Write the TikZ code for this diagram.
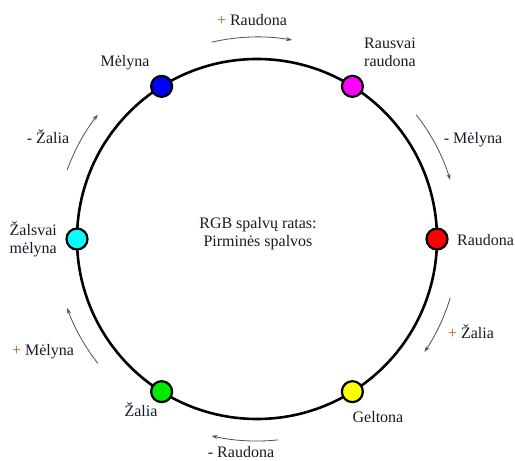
\documentclass[tikz,border=0pt]{standalone}
\usepackage{fontspec}
\setmainfont{Liberation Serif}
\newfontfamily\lbfont{Liberation Serif}
\usetikzlibrary{arrows.meta}
\definecolor{txt}{RGB}{25,25,40}
\definecolor{plus}{RGB}{180,95,20}
\definecolor{arcgray}{RGB}{80,80,80}
\definecolor{cred}{RGB}{255,0,0}
\definecolor{cmag}{RGB}{255,0,255}
\definecolor{cblu}{RGB}{0,0,255}
\definecolor{ccya}{RGB}{0,255,255}
\definecolor{cgrn}{RGB}{0,235,0}
\definecolor{cyel}{RGB}{255,255,0}
\begin{document}
\begin{tikzpicture}[x=1pt,y=1pt,
  lbl/.style={font=\lbfont\fontsize{16}{18}\selectfont, text=txt, inner sep=0pt, align=center},
  dot/.style={circle, draw=black, line width=2.2pt, minimum size=21pt, inner sep=0pt},
  flow/.style={draw=arcgray, line width=0.8pt, -{Stealth[length=6pt,width=4pt]}},
  wheel/.style={draw=black, line width=2.6pt}]
\useasboundingbox (0,0) rectangle (515,461);
\coordinate (C) at (257,222);
\draw[wheel] (C) circle[radius=180pt];
% colour dots
\node[dot, fill=cred] (red) at ([shift={(0:180pt)}]C) {};
\node[dot, fill=cmag] (mag) at ([shift={(58:180pt)}]C) {};
\node[dot, fill=cblu] (blu) at ([shift={(122:180pt)}]C) {};
\node[dot, fill=ccya] (cya) at ([shift={(180:180pt)}]C) {};
\node[dot, fill=cgrn] (grn) at ([shift={(238:180pt)}]C) {};
\node[dot, fill=cyel] (yel) at ([shift={(302:180pt)}]C) {};
% colour labels
\node[lbl] (lblu) at (125,398) {Mėlyna};
\node[lbl] (lmag) at (390,409) {Rausvai\\raudona};
\node[lbl, anchor=west] (lred) at (457,221) {Raudona};
\node[lbl] (lyel) at (378,44) {Geltona};
\node[lbl] (lgrn) at (141,51) {Žalia};
\node[lbl, anchor=east, align=right] (lcya) at (57,222) {Žalsvai\\mėlyna};
\node[lbl] (title) at (258,227) {RGB spalvų ratas:\\Pirminės spalvos};
% transition arrows
\draw[flow] ([shift={(103:202pt)}]C) coordinate (f1) arc[start angle=103, end angle=80, radius=202pt];
\draw[flow] ([shift={(38:202pt)}]C) coordinate (f2) arc[start angle=38, end angle=17, radius=202pt];
\draw[flow] ([shift={(-17:202pt)}]C) coordinate (f3) arc[start angle=-17, end angle=-34, radius=202pt];
\draw[flow] ([shift={(-84:202pt)}]C) coordinate (f4) arc[start angle=-84, end angle=-103, radius=202pt];
\draw[flow] ([shift={(218:202pt)}]C) coordinate (f5) arc[start angle=218, end angle=200, radius=202pt];
\draw[flow] ([shift={(160:202pt)}]C) coordinate (f6) arc[start angle=160, end angle=142, radius=202pt];
% transition labels
\node[lbl] (t1) at (252,441) {{\color{plus}+} Raudona};
\node[lbl] (t2) at (473,321) {- Mėlyna};
\node[lbl] (t3) at (471,129) {{\color{plus}+} Žalia};
\node[lbl] (t4) at (241,9) {- Raudona};
\node[lbl] (t5) at (43,109) {{\color{plus}+} Mėlyna};
\node[lbl] (t6) at (48,324) {- Žalia};
\end{tikzpicture}
\end{document}
